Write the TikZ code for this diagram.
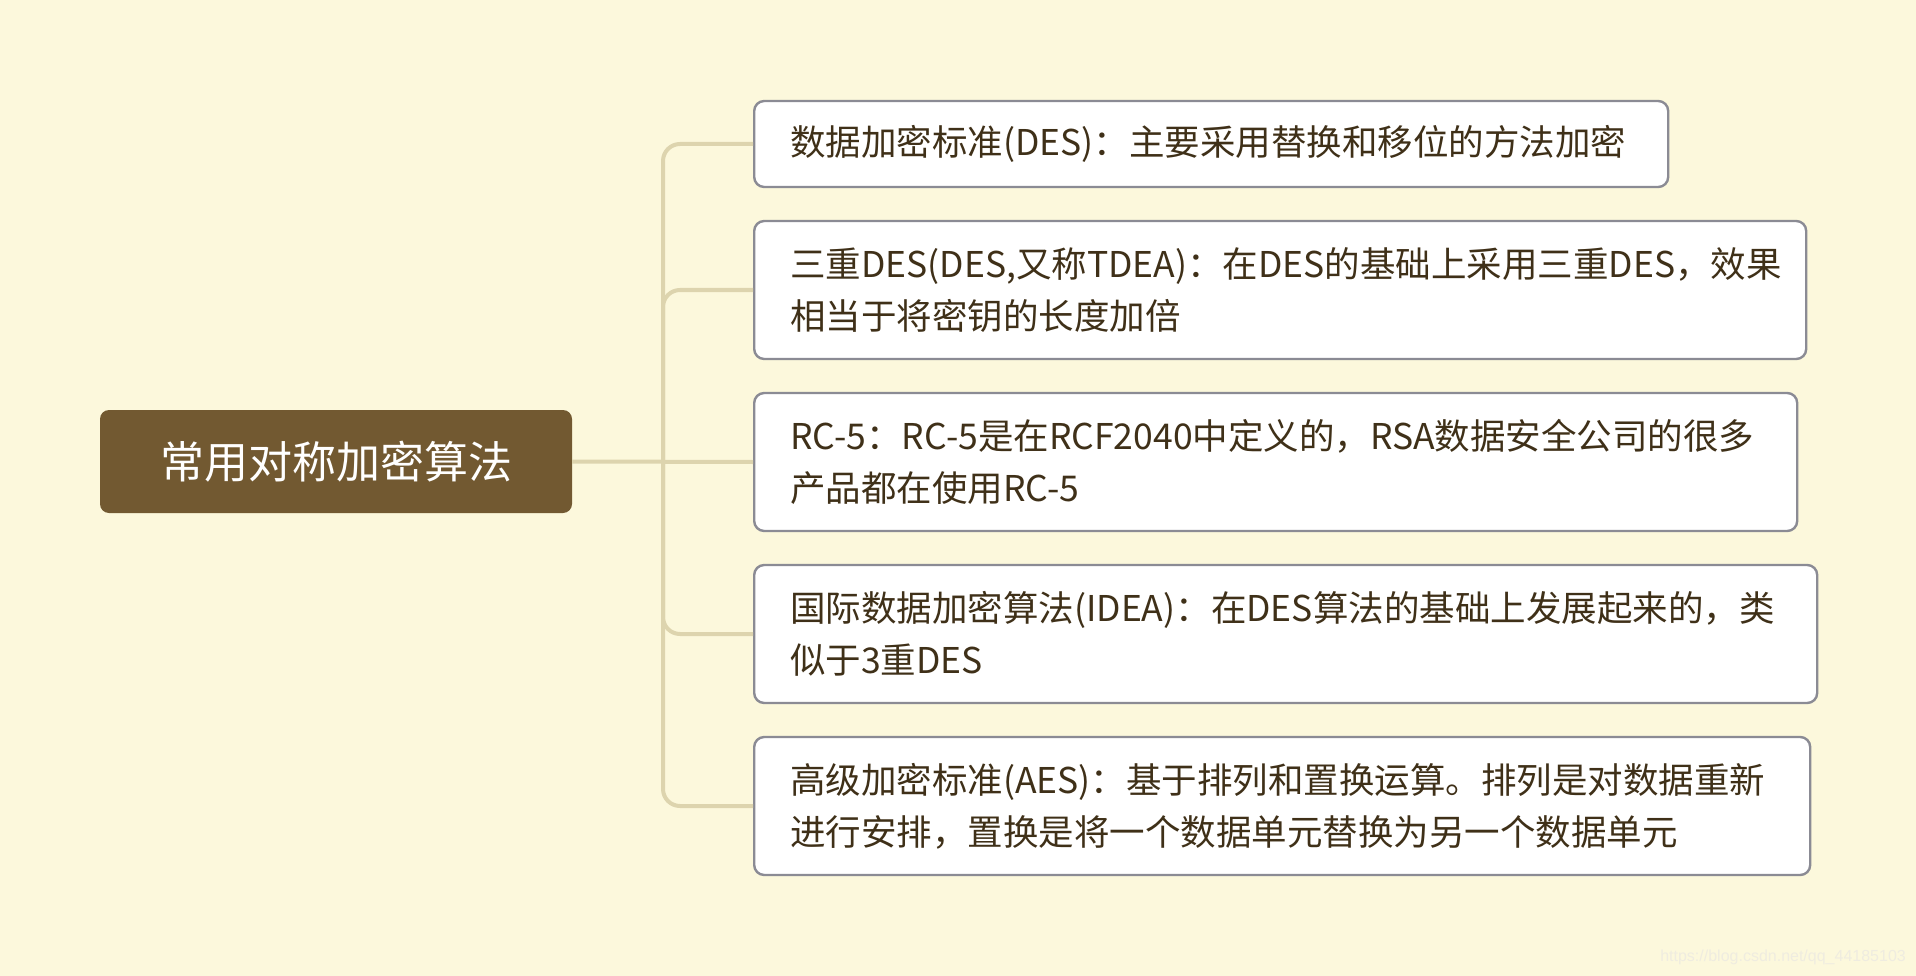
\documentclass[tikz,border=0pt]{standalone}
\usepackage{fontspec}
\setmainfont{Noto Sans CJK SC}
\newfontfamily\wmfont{Liberation Sans}
\definecolor{bgcol}{HTML}{FCF8DC}
\definecolor{conncol}{HTML}{DDD4AE}
\definecolor{rootfill}{HTML}{725931}
\definecolor{leafline}{HTML}{8B8B94}
\definecolor{leaftext}{HTML}{3F3018}
\definecolor{wmcol}{HTML}{EFECE0}
\tikzset{
  rootbox/.style={fill=rootfill, rounded corners=9pt, text=white,
    font={\fontsize{44pt}{50pt}\selectfont}, minimum width=472pt,
    minimum height=103pt, inner sep=0pt},
  leaf/.style={draw=leafline, line width=2.4pt, fill=white, rounded corners=10pt,
    anchor=west, align=left, inner xsep=36pt, inner ysep=0pt, text=leaftext,
    font={\fontsize{35.5pt}{52pt}\selectfont}, minimum height=138pt},
  conn/.style={draw=conncol, line width=4pt, rounded corners=17pt},
}
\begin{document}
\begin{tikzpicture}[x=1pt,y=-1pt]
\fill[bgcol] (0,0) rectangle (1916,976);
\useasboundingbox (0,0) rectangle (1916,976);
\node[rootbox] (root) at (336,461.5) {常用对称加密算法};
\node[leaf, text width=842pt, minimum height=86pt] (b1) at (753,144)
  {数据加密标准(DES)：主要采用替换和移位的方法加密};
\node[leaf, text width=980pt] (b2) at (753,290)
  {三重DES(DES,又称TDEA)：在DES的基础上采用三重DES，效果\\相当于将密钥的长度加倍};
\node[leaf, text width=971pt] (b3) at (753,462)
  {RC-5：RC-5是在RCF2040中定义的，RSA数据安全公司的很多\\产品都在使用RC-5};
\node[leaf, text width=991pt] (b4) at (753,634)
  {国际数据加密算法(IDEA)：在DES算法的基础上发展起来的，类\\似于3重DES};
\node[leaf, text width=984pt] (b5) at (753,806)
  {高级加密标准(AES)：基于排列和置换运算。排列是对数据重新\\进行安排，置换是将一个数据单元替换为另一个数据单元};
\coordinate (trunk) at (663,462);
\draw[conn] (b1.west) -| (trunk) |- (b5.west);
\draw[conn] (b2.west) -| (trunk);
\draw[conn] (b4.west) -| (trunk);
\draw[conn] (root.east) -- (b3.west);
\node[font={\wmfont\fontsize{16pt}{18pt}\selectfont}, text=wmcol, anchor=east, inner sep=0pt]
  (wm) at (1906,957) {https://blog.csdn.net/qq\_44185103};
\end{tikzpicture}
\end{document}
